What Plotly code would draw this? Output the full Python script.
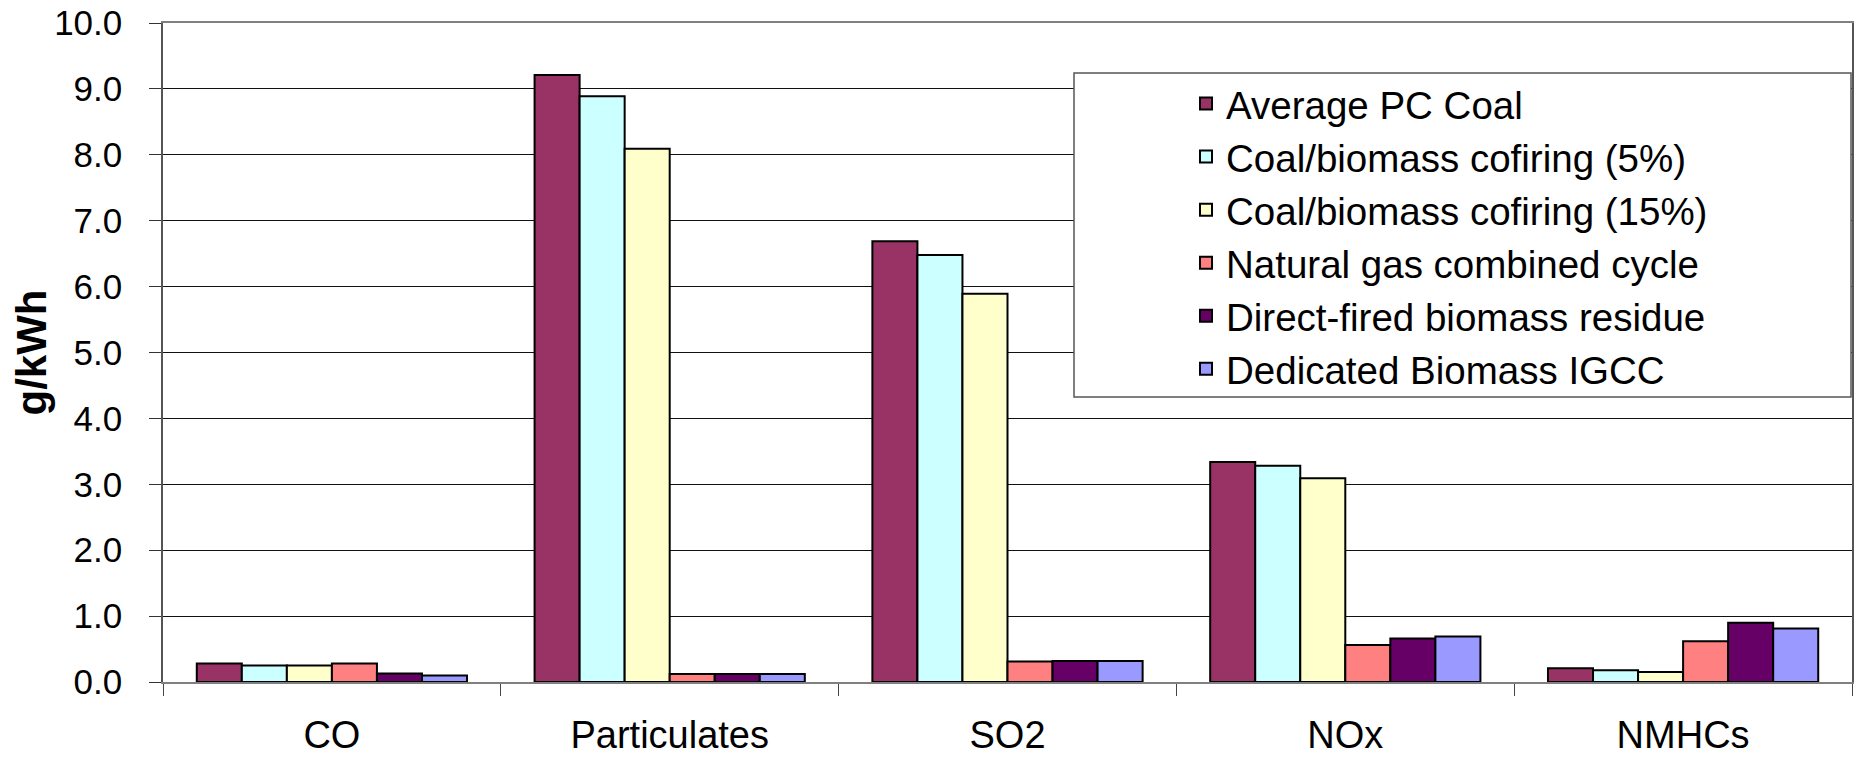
import plotly.graph_objects as go

categories = ["CO", "Particulates", "SO2", "NOx", "NMHCs"]
series_names = [
    "Average PC Coal",
    "Coal/biomass cofiring (5%)",
    "Coal/biomass cofiring (15%)",
    "Natural gas combined cycle",
    "Direct-fired biomass residue",
    "Dedicated Biomass IGCC",
]
avg_pc_coal = [0.28, 9.21, 6.69, 3.34, 0.21]
cofiring_5 = [0.25, 8.89, 6.48, 3.28, 0.18]
cofiring_15 = [0.25, 8.09, 5.89, 3.09, 0.15]
ngcc = [0.28, 0.12, 0.31, 0.56, 0.62]
direct_fired = [0.13, 0.12, 0.32, 0.66, 0.90]
biomass_igcc = [0.10, 0.12, 0.32, 0.69, 0.81]
colors = ["#993366", "#CCFFFF", "#FFFFCC", "#FF8080", "#660066", "#9999FF"]
y_ticks = [0, 1, 2, 3, 4, 5, 6, 7, 8, 9, 10]
y_title = "g/kWh"

series_values = [avg_pc_coal, cofiring_5, cofiring_15, ngcc, direct_fired, biomass_igcc]

FONT = "Liberation Sans, Arial, sans-serif"

fig = go.Figure()
for name, vals, col in zip(series_names, series_values, colors):
    fig.add_trace(go.Bar(
        x=categories, y=vals, name=name,
        marker=dict(color=col, line=dict(color="black", width=2)),
    ))

W, H = 1856, 758
L, R, T, B = 163, 4, 23, 76
pw, ph = W - L - R, H - T - B

def px_x(v):
    return (v - L) / pw

def px_y(v):
    return (H - B - v) / ph

fig.add_shape(type="rect", xref="paper", yref="paper",
              x0=px_x(1074), x1=px_x(1851), y0=px_y(397), y1=px_y(73),
              fillcolor="white", line=dict(color="#555555", width=1.5), layer="above")

fig.add_annotation(
    text="<b>" + y_title + "</b>", textangle=-90,
    xref="paper", yref="paper", x=0, y=0.5,
    xanchor="center", yanchor="middle", xshift=(31 - L), showarrow=False,
    font=dict(family=FONT, size=42, color="black"),
)

fig.update_layout(
    width=W, height=H,
    template="none",
    paper_bgcolor="white", plot_bgcolor="white",
    margin=dict(l=L, r=R, t=T, b=B, pad=0),
    barmode="group", bargap=0.2, bargroupgap=0,
    font=dict(family=FONT, color="black"),
    legend=dict(
        x=px_x(1186), y=px_y(72), xanchor="left", yanchor="top",
        font=dict(family=FONT, size=38.5, color="black"),
        bgcolor="rgba(0,0,0,0)", borderwidth=0,
        traceorder="normal",
    ),
    xaxis=dict(
        type="category", tickson="boundaries", ticks="outside", ticklen=12,
        tickcolor="#444444", tickwidth=1,
        showline=True, linecolor="#808080", linewidth=1.5, mirror=True,
        showgrid=False, automargin=False,
        ticklabelstandoff=19,
        tickfont=dict(family=FONT, size=38, color="black"),
    ),
    yaxis=dict(
        range=[0, 10], tickvals=y_ticks, tickformat=".1f",
        ticks="outside", ticklen=12, tickcolor="#333333", tickwidth=1,
        showline=True, linecolor="#555555", linewidth=1.5, mirror=True,
        showgrid=True, gridcolor="#111111", gridwidth=1,
        automargin=False, zeroline=False,
        ticklabelstandoff=20, ticklabeloverflow="allow",
        tickfont=dict(family=FONT, size=35, color="black"),
    ),
)

# remove the browser's default 8px body margin so the figure fills the window exactly
fig.write_html(
    "out.html",
    config={"displayModeBar": False},
    post_script="document.body.style.margin='0';document.body.style.overflow='hidden';",
)
